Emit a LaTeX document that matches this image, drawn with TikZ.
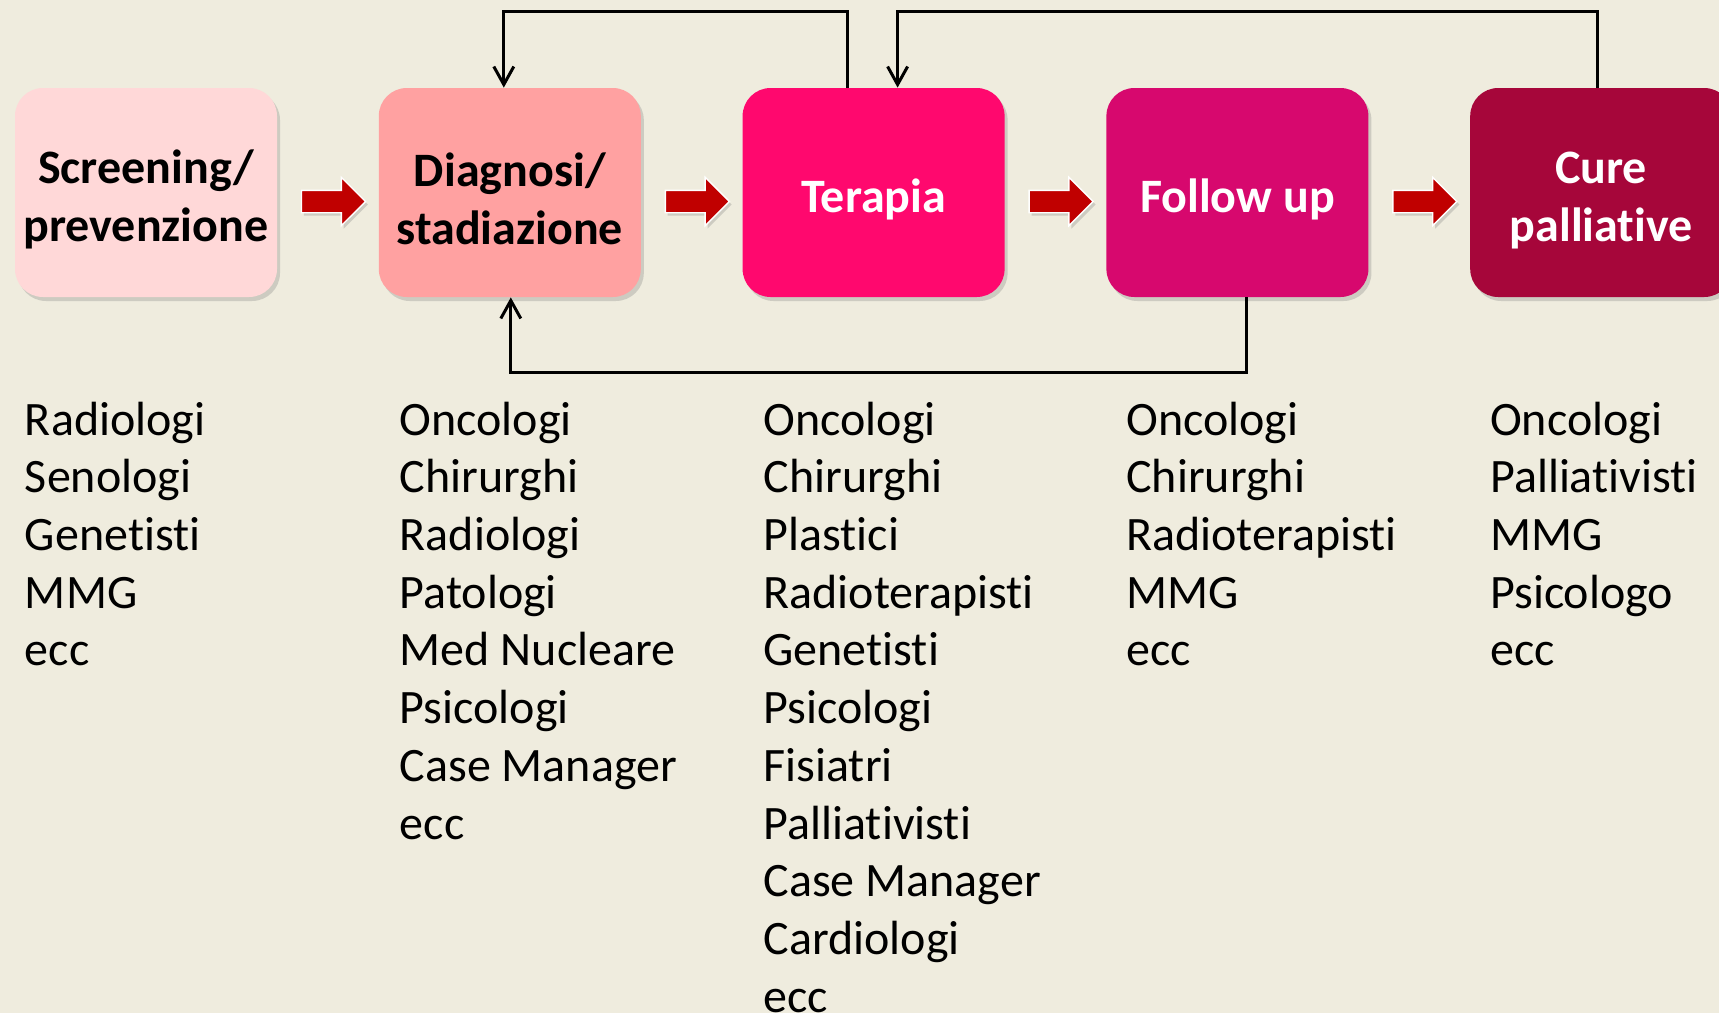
\documentclass[tikz,border=0pt]{standalone}
\usepackage{fontspec}
\setmainfont{Carlito}[Ligatures=NoCommon]
\usetikzlibrary{shapes.arrows,arrows.meta,positioning,shadows,calc}

\definecolor{bgcol}{RGB}{239,236,222}
\definecolor{scrcol}{RGB}{255,216,216}
\definecolor{diacol}{RGB}{255,161,161}
\definecolor{tercol}{RGB}{255,8,110}
\definecolor{folcol}{RGB}{215,8,110}
\definecolor{palcol}{RGB}{166,6,58}
\definecolor{arrred}{RGB}{192,0,0}

% pushes the phase text a little down
\newcommand\phasestrut{\rule{0pt}{23.5pt}}

\begin{document}
\begin{tikzpicture}[
  x=0.5pt, y=-0.5pt,
  node distance=50.5pt,
  phase/.style={rounded corners=14pt, minimum width=131pt, minimum height=104.5pt, align=center,
    inner sep=2pt, font=\bfseries\fontsize{24}{28.85}\selectfont,
    drop shadow={shadow xshift=1.5pt, shadow yshift=-2pt, opacity=0.3}},
  flowarr/.style={single arrow, fill=arrred, draw=white, line width=0.7pt,
    inner xsep=0pt, inner ysep=5.25pt,
    minimum height=32pt, minimum width=23.5pt, single arrow head extend=6.5pt,
    drop shadow={shadow xshift=1.2pt, shadow yshift=-1.5pt, opacity=0.3}},
  fb/.style={-{Straight Barb[length=9pt,width=10pt]}, line width=1.5pt},
  list/.style={anchor=north west, align=left, inner sep=0pt, font=\fontsize{24}{28.85}\selectfont}
]
  \fill[bgcol] (0,0) rectangle (1719,1013);
  \useasboundingbox (0,0) rectangle (1719,1013);

  % phases
  \node[phase, fill=scrcol] (scr) at (146,192.5) {\phasestrut Screening/\\prevenzione};
  \node[phase, fill=diacol, right=of scr] (dia) {\phasestrut Diagnosi/\\stadiazione};
  \node[phase, fill=tercol, text=white, right=of dia] (ter) {\phasestrut Terapia};
  \node[phase, fill=folcol, text=white, right=of ter] (fol) {\phasestrut Follow up};
  \node[phase, fill=palcol, text=white, right=of fol] (pal) {\phasestrut Cure\\palliative};

  % red arrows between phases
  \node[flowarr] (a1) at ([yshift=-4.5pt]$(scr.east)!0.5!(dia.west)$) {};
  \node[flowarr] (a2) at ([yshift=-4.5pt]$(dia.east)!0.5!(ter.west)$) {};
  \node[flowarr] (a3) at ([yshift=-4.5pt]$(ter.east)!0.5!(fol.west)$) {};
  \node[flowarr] (a4) at ([yshift=-4.5pt]$(fol.east)!0.5!(pal.west)$) {};

  % feedback loops
  \draw[fb] ([xshift=-13pt]ter.north) -- ++(0,-76) -| ([xshift=-3pt]dia.north);
  \draw[fb] ([xshift=-2pt]pal.north) -- ++(0,-76) -| ([xshift=12pt]ter.north);
  \draw[fb] ([xshift=4.5pt]fol.south) -- ++(0,75) -| ([xshift=0.5pt]dia.south);

  % who is involved
  \node[list] (lscr) at ([xshift=5pt, yshift=-52pt]scr.south west)
    {Radiologi\\Senologi\\Genetisti\\MMG\\ecc};
  \node[list] (ldia) at ([xshift=10.5pt, yshift=-52pt]dia.south west)
    {Oncologi\\Chirurghi\\Radiologi\\Patologi\\Med Nucleare\\Psicologi\\Case Manager\\ecc};
  \node[list] (lter) at ([xshift=10.5pt, yshift=-52pt]ter.south west)
    {Oncologi\\Chirurghi\\Plastici\\Radioterapisti\\Genetisti\\Psicologi\\Fisiatri\\Palliativisti\\Case Manager\\Cardiologi\\ecc};
  \node[list] (lfol) at ([xshift=10pt, yshift=-52pt]fol.south west)
    {Oncologi\\Chirurghi\\Radioterapisti\\MMG\\ecc};
  \node[list] (lpal) at ([xshift=10pt, yshift=-52pt]pal.south west)
    {Oncologi\\Palliativisti\\MMG\\Psicologo\\ecc};
\end{tikzpicture}
\end{document}
